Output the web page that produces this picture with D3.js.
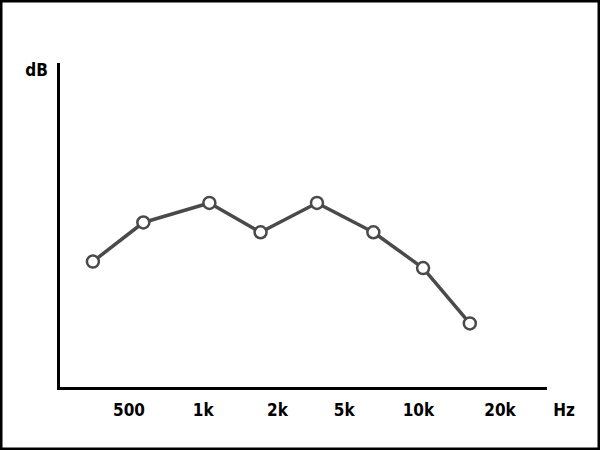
<!DOCTYPE html>
<html><head><meta charset="utf-8">
<script src="https://cdn.jsdelivr.net/npm/d3@7"></script>
<style>body{margin:0;background:#fff}svg{display:block}</style>
</head><body>
<script>
// Tick labels and their positions along the frequency axis (axis units)
const tickLabels = ["500", "1k", "2k", "5k", "10k", "20k"];
const tickPos = [1, 2, 3, 3.9, 4.9, 6];
// Data points: position along frequency axis and level (dB, arbitrary units)
const pointPos = [0.52, 1.2, 2.09, 2.78, 3.54, 4.3, 4.97, 5.6];
const levels = [39, 51, 57, 48, 57, 48, 37, 20];

const W = 600, H = 450;
const svg = d3.select("body").append("svg").attr("width", W).attr("height", H);

svg.append("rect").attr("x", 1.25).attr("y", 1.25).attr("width", W - 2.5).attr("height", H - 2.5)
  .attr("fill", "#fff").attr("stroke", "#000").attr("stroke-width", 2.5);

const x = d3.scaleLinear().domain([1, 6]).range([128.5, 499.5]);
const y = d3.scaleLinear().domain([0, 100]).range([388.5, 63]);

const font = "'DejaVu Sans Condensed', 'DejaVu Sans', sans-serif";
const fs = 17;

// Axes
svg.append("line").attr("x1", 58.5).attr("x2", 58.5).attr("y1", y(100)).attr("y2", y(0) + 1.5)
  .attr("stroke", "#000").attr("stroke-width", 3);
svg.append("line").attr("x1", 57).attr("x2", 547).attr("y1", y(0)).attr("y2", y(0))
  .attr("stroke", "#000").attr("stroke-width", 3);

const xAxis = d3.axisBottom(x).tickValues(tickPos)
  .tickFormat((d, i) => tickLabels[i]).tickSize(0).tickPadding(0);
const gx = svg.append("g").attr("transform", `translate(0,${y(0)})`).call(xAxis);
gx.select(".domain").remove();
gx.selectAll("text").attr("dy", null).attr("y", 27.5)
  .attr("font-family", font).attr("font-weight", "bold").attr("font-size", fs).attr("fill", "#000");

svg.append("text").attr("x", 564).attr("y", 416).attr("text-anchor", "middle")
  .attr("font-family", font).attr("font-weight", "bold").attr("font-size", fs).attr("fill", "#000").text("Hz");
svg.append("text").attr("x", 36.5).attr("y", 76).attr("text-anchor", "middle")
  .attr("font-family", font).attr("font-weight", "bold").attr("font-size", fs).attr("fill", "#000").text("dB");

const data = pointPos.map((p, i) => ({p, v: levels[i]}));
const color = "#4a4a4a";
svg.append("path").datum(data)
  .attr("d", d3.line().x(d => x(d.p)).y(d => y(d.v)))
  .attr("fill", "none").attr("stroke", color).attr("stroke-width", 3.5).attr("stroke-linejoin", "round");
svg.selectAll("circle.pt").data(data).join("circle").attr("class", "pt")
  .attr("cx", d => x(d.p)).attr("cy", d => y(d.v)).attr("r", 6)
  .attr("fill", "#fff").attr("stroke", color).attr("stroke-width", 2.5);
</script>
</body></html>
